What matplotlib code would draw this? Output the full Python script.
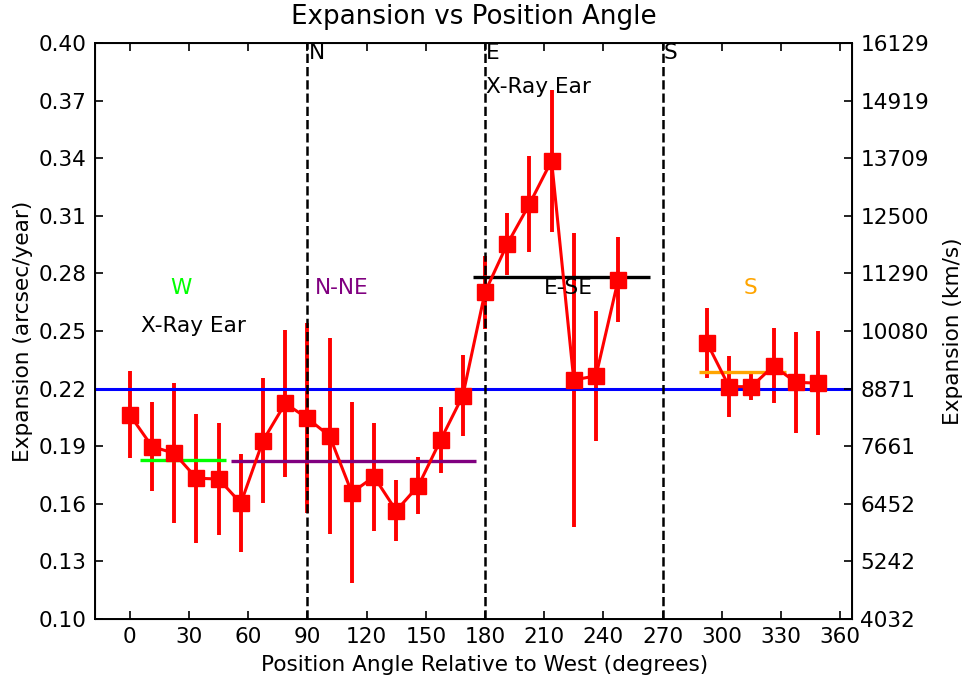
import matplotlib
matplotlib.use("Agg")
import matplotlib.pyplot as plt
import numpy as np

nan = np.nan

# Position angles (degrees from west) and measured expansion rates;
# no measurements exist between 250 and 290 degrees
angles = [0, 11.25, 22.5, 33.75, 45, 56.25, 67.5, 78.75, 90, 101.25, 112.5,
          123.75, 135, 146.25, 157.5, 168.75, 180, 191.25, 202.5, 213.75,
          225, 236.25, 247.5, 258.75, 270, 281.25, 292.5, 303.75, 315,
          326.25, 337.5, 348.75]
expansion = [0.2063, 0.1898, 0.1863, 0.1733, 0.1729, 0.1603, 0.1929, 0.2123,
             0.2045, 0.1953, 0.1658, 0.1741, 0.1564, 0.1694, 0.1932, 0.2163,
             0.2702, 0.2952, 0.3160, 0.3387, 0.2245, 0.2266, 0.2766,
             nan, nan, nan,
             0.2439, 0.2210, 0.2210, 0.2318, 0.2233, 0.2228]
expansion_err = [0.0226, 0.0233, 0.0365, 0.0335, 0.0290, 0.0254, 0.0326, 0.0382,
                 0.0495, 0.0512, 0.0472, 0.0282, 0.0160, 0.0148, 0.0174, 0.0210,
                 0.0190, 0.0163, 0.0250, 0.0369, 0.0764, 0.0339, 0.0221,
                 nan, nan, nan,
                 0.0182, 0.0158, 0.0068, 0.0195, 0.0263, 0.0271]

# Mean expansion over all angles
mean_expansion = 0.22

# Regional averages
region_start = [5.0, 51.2, 173.7, 288.7]
region_end = [48.7, 175.2, 263.5, 332.7]
region_value = [0.183, 0.1825, 0.278, 0.2288]
region_color = ["#00ff00", "purple", "black", "orange"]
region_label = ["W", "N-NE", "E-SE", "S"]
region_label_x = [25.9, 107.5, 222.5, 314.5]

# Cardinal directions
cardinal_angles = [90, 180, 270]
cardinal_labels = ["N", "E", "S"]

# Axis ticks
x_ticks = [0, 30, 60, 90, 120, 150, 180, 210, 240, 270, 300, 330, 360]
y_ticks = [0.10, 0.13, 0.16, 0.19, 0.22, 0.25, 0.28, 0.31, 0.34, 0.37, 0.40]
y_tick_labels = ["0.10", "0.13", "0.16", "0.19", "0.22", "0.25", "0.28",
                 "0.31", "0.34", "0.37", "0.40"]
kms_tick_labels = ["4032", "5242", "6452", "7661", "8871", "10080", "11290",
                   "12500", "13709", "14919", "16129"]

FS = 15.6

fig = plt.figure(figsize=(9.68, 6.82), dpi=100)
ax = fig.add_axes([0.0981, 0.0924, 0.7820, 0.8446])

ax.errorbar(angles, expansion, yerr=expansion_err, color="red", marker="s",
            markersize=11, linewidth=2.2, elinewidth=2.8, capsize=0)

ax.axhline(mean_expansion, color="blue", linewidth=2.2)

for x in cardinal_angles:
    ax.axvline(x, color="black", linestyle="--", linewidth=1.8)

for xs, xe, v, c in zip(region_start, region_end, region_value, region_color):
    ax.hlines(v, xs, xe, color=c, linewidth=2.4)

for lab, lx, c in zip(region_label, region_label_x, region_color):
    ax.text(lx, 0.2724, lab, color=c, fontsize=FS, ha="center", va="center")

for x, lab in zip(cardinal_angles, cardinal_labels):
    ax.text(x + 0.5, 0.3946, lab, fontsize=FS, ha="left", va="center")

ax.text(32.3, 0.2526, "X-Ray Ear", fontsize=FS, ha="center", va="center")
ax.text(180.5, 0.3769, "X-Ray Ear", fontsize=FS, ha="left", va="center")

ax.set_xlim(-17.7, 366)
ax.set_ylim(0.10, 0.40)
ax.set_xticks(x_ticks)
ax.set_yticks(y_ticks)
ax.set_yticklabels(y_tick_labels)
ax.tick_params(direction="in", top=True, labelsize=FS, length=6, width=1.2,
               pad=6)
for s in ax.spines.values():
    s.set_linewidth(1.4)

ax.set_xlabel("Position Angle Relative to West (degrees)", fontsize=FS,
              labelpad=6)
ax.xaxis.set_label_coords(0.5145, -0.062)
ax.set_ylabel("Expansion (arcsec/year)", fontsize=FS)
ax.set_title("Expansion vs Position Angle", fontsize=18.8, pad=14)

ax2 = ax.twinx()
ax2.set_ylim(0.10, 0.40)
ax2.set_yticks(y_ticks)
ax2.set_yticklabels(kms_tick_labels)
ax2.tick_params(direction="in", labelsize=FS, length=6, width=1.2, pad=6)
ax2.set_ylabel("Expansion (km/s)", fontsize=FS, labelpad=10)

fig.savefig("out.png", dpi=100)
